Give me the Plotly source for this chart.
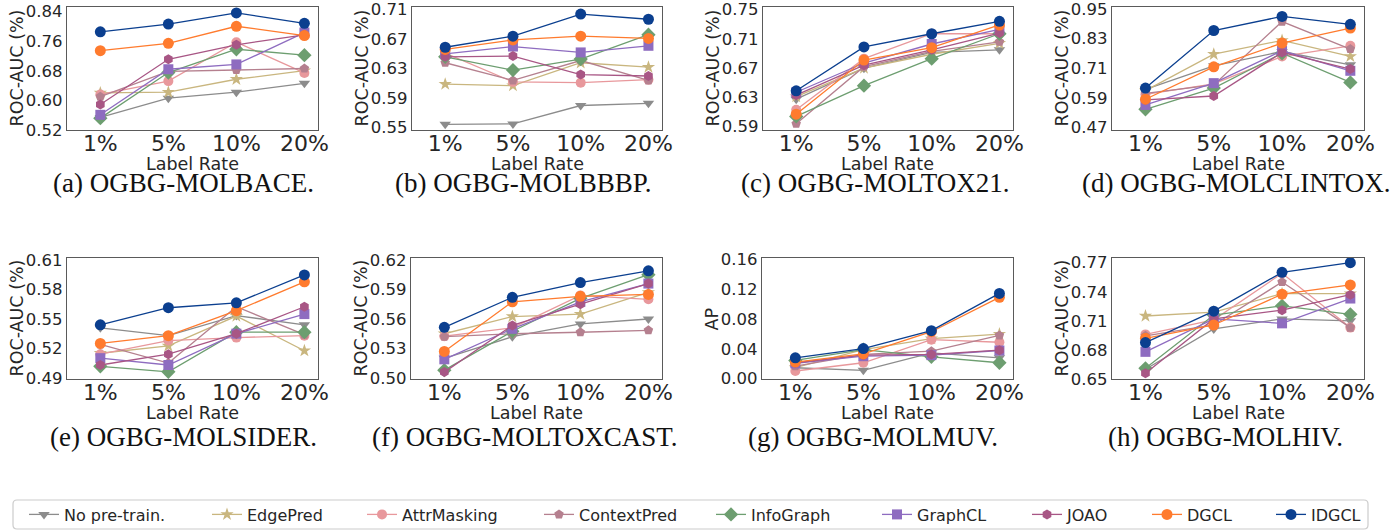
import plotly.graph_objects as go

label_rates = ["1%", "5%", "10%", "20%"]
methods = ["No pre-train.", "EdgePred", "AttrMasking", "ContextPred", "InfoGraph",
           "GraphCL", "JOAO", "DGCL", "IDGCL"]

# rows follow the order of `methods`; columns follow `label_rates`
bace = [
    [0.554, 0.606, 0.622, 0.646],
    [0.620, 0.622, 0.657, 0.680],
    [0.616, 0.652, 0.757, 0.674],
    [0.610, 0.678, 0.682, 0.686],
    [0.552, 0.675, 0.738, 0.722],
    [0.561, 0.684, 0.697, 0.783],
    [0.589, 0.711, 0.750, 0.777],
    [0.734, 0.754, 0.800, 0.775],
    [0.785, 0.806, 0.836, 0.808],
]
bbbp = [
    [0.5545, 0.555, 0.580, 0.583],
    [0.609, 0.607, 0.638, 0.632],
    [0.651, 0.612, 0.611, 0.615],
    [0.638, 0.614, 0.641, 0.614],
    [0.646, 0.628, 0.643, 0.676],
    [0.650, 0.660, 0.652, 0.661],
    [0.646, 0.647, 0.622, 0.620],
    [0.656, 0.669, 0.674, 0.671],
    [0.659, 0.674, 0.704, 0.697],
]
tox21 = [
    [0.6275, 0.670, 0.6915, 0.695],
    [0.631, 0.670, 0.689, 0.704],
    [0.613, 0.683, 0.717, 0.717],
    [0.594, 0.672, 0.693, 0.706],
    [0.604, 0.646, 0.683, 0.717],
    [0.637, 0.677, 0.703, 0.723],
    [0.633, 0.674, 0.695, 0.718],
    [0.607, 0.681, 0.698, 0.729],
    [0.639, 0.699, 0.717, 0.734],
]
clintox = [
    [0.625, 0.720, 0.778, 0.724],
    [0.620, 0.767, 0.823, 0.758],
    [0.605, 0.647, 0.758, 0.801],
    [0.609, 0.643, 0.899, 0.788],
    [0.544, 0.630, 0.771, 0.653],
    [0.562, 0.650, 0.781, 0.700],
    [0.582, 0.598, 0.774, 0.707],
    [0.585, 0.716, 0.812, 0.873],
    [0.630, 0.863, 0.920, 0.888],
]
sider = [
    [0.541, 0.533, 0.5535, 0.544],
    [0.515, 0.5226, 0.553, 0.5176],
    [0.514, 0.528, 0.531, 0.533],
    [0.524, 0.505, 0.5625, 0.534],
    [0.5016, 0.496, 0.5365, 0.5365],
    [0.510, 0.503, 0.535, 0.555],
    [0.503, 0.514, 0.535, 0.5625],
    [0.525, 0.533, 0.5585, 0.588],
    [0.544, 0.5615, 0.5665, 0.595],
]
toxcast = [
    [0.520, 0.542, 0.555, 0.560],
    [0.545, 0.5625, 0.565, 0.587],
    [0.5425, 0.551, 0.584, 0.580],
    [0.542, 0.545, 0.5465, 0.5485],
    [0.508, 0.5475, 0.581, 0.605],
    [0.519, 0.550, 0.5775, 0.596],
    [0.506, 0.5535, 0.575, 0.596],
    [0.527, 0.5775, 0.583, 0.585],
    [0.5515, 0.582, 0.597, 0.609],
]
muv = [
    [0.0146, 0.0111, 0.0346, 0.0279],
    [0.0146, 0.0390, 0.0536, 0.0598],
    [0.0102, 0.0213, 0.0523, 0.0488],
    [0.0168, 0.0324, 0.0368, 0.0580],
    [0.0244, 0.0390, 0.0293, 0.0213],
    [0.0204, 0.0301, 0.0315, 0.0377],
    [0.0213, 0.0315, 0.0324, 0.0381],
    [0.0222, 0.0332, 0.0629, 0.1090],
    [0.0279, 0.0403, 0.0643, 0.1143],
]
hiv = [
    [0.660, 0.7016, 0.712, 0.710],
    [0.715, 0.719, 0.738, 0.738],
    [0.696, 0.711, 0.759, 0.703],
    [0.6945, 0.7057, 0.750, 0.703],
    [0.661, 0.716, 0.7255, 0.7167],
    [0.678, 0.712, 0.7074, 0.733],
    [0.656, 0.712, 0.721, 0.737],
    [0.692, 0.7057, 0.7375, 0.747],
    [0.6876, 0.720, 0.760, 0.770],
]

datasets = [bace, bbbp, tox21, clintox, sider, toxcast, muv, hiv]
captions = ["(a) OGBG-MOLBACE.", "(b) OGBG-MOLBBBP.", "(c) OGBG-MOLTOX21.",
            "(d) OGBG-MOLCLINTOX.", "(e) OGBG-MOLSIDER.", "(f) OGBG-MOLTOXCAST.",
            "(g) OGBG-MOLMUV.", "(h) OGBG-MOLHIV."]
y_titles = ["ROC-AUC (%)"] * 6 + ["AP", "ROC-AUC (%)"]
y_ticks = [
    [0.52, 0.60, 0.68, 0.76, 0.84],
    [0.55, 0.59, 0.63, 0.67, 0.71],
    [0.59, 0.63, 0.67, 0.71, 0.75],
    [0.47, 0.59, 0.71, 0.83, 0.95],
    [0.49, 0.52, 0.55, 0.58, 0.61],
    [0.50, 0.53, 0.56, 0.59, 0.62],
    [0.00, 0.04, 0.08, 0.12, 0.16],
    [0.65, 0.68, 0.71, 0.74, 0.77],
]

# ---------------- styling / layout ----------------
W, H = 1398, 531
colors = ["#8c8c8c", "#c9b67f", "#e8989c", "#b5808f", "#6d9e70",
          "#8e6cc0", "#a85685", "#ff7b2e", "#0b3f8f"]
symbols = ["triangle-down", "star", "circle", "pentagon", "diamond",
           "square", "hexagon", "circle", "circle"]
sizes = [10, 10, 10, 10, 11, 10, 10, 11, 11]

y_ranges = [
    [0.52, 0.852], [0.5468, 0.7136], [0.5854, 0.7536], [0.4605, 0.958],
    [0.4887, 0.6123], [0.4990, 0.6220], [-0.0005, 0.1618], [0.65, 0.7748],
]
# panel frames in pixels: (left, right, top, bottom)
frames = [
    (67, 318, 7, 130), (412, 662, 7, 130), (763, 1013, 7, 130), (1112, 1364, 7, 130),
    (67, 318, 258, 379), (411, 662, 258, 379), (762, 1013, 258, 379), (1112, 1364, 258, 379),
]
caption_centers = [(183, 183), (523, 183), (875, 183), (1236, 183),
                   (183, 437), (525, 437), (873, 437), (1225, 437)]
text_color = "#262626"
x_positions = list(range(len(label_rates)))

fig = go.Figure()
annotations = []
layout_axes = {}
for p, data in enumerate(datasets):
    xa = "x" if p == 0 else f"x{p+1}"
    ya = "y" if p == 0 else f"y{p+1}"
    for m, name in enumerate(methods):
        leg = "legend" if m == 0 else f"legend{m+1}"
        fig.add_trace(go.Scatter(
            x=x_positions, y=data[m], name=name, mode="lines+markers",
            xaxis=xa, yaxis=ya,
            line=dict(color=colors[m], width=1.3),
            marker=dict(symbol=symbols[m], size=sizes[m], color=colors[m]),
            showlegend=(p == 0), legend=leg,
        ))
    l, r, t, b = frames[p]
    xkey = "xaxis" if p == 0 else f"xaxis{p+1}"
    ykey = "yaxis" if p == 0 else f"yaxis{p+1}"
    layout_axes[xkey] = dict(
        domain=[l / W, r / W], anchor=ya, range=[-0.49, 3.2],
        tickvals=x_positions, ticktext=label_rates,
        tickfont=dict(size=22, color=text_color, family="DejaVu Sans"),
        showline=True, mirror=True, linecolor="#5a5a5a", linewidth=1.2,
        showgrid=False, zeroline=False, ticks="", ticklabelstandoff=-7,
        ticklabeloverflow="allow",
    )
    layout_axes[ykey] = dict(
        domain=[1 - b / H, 1 - t / H], anchor=xa, range=y_ranges[p],
        tickvals=y_ticks[p], tickformat=".2f",
        tickfont=dict(size=16.5, color=text_color, family="DejaVu Sans"),
        showline=True, mirror=True, linecolor="#5a5a5a", linewidth=1.2,
        showgrid=False, zeroline=False, ticks="", ticklabeloverflow="allow",
    )
    annotations.append(dict(
        text="Label Rate", x=(l + r) / 2 / W, y=1 - (b + 34) / H,
        xref="paper", yref="paper", showarrow=False, xanchor="center", yanchor="middle",
        font=dict(size=17.5, color=text_color, family="DejaVu Sans"),
    ))
    annotations.append(dict(
        text=y_titles[p], x=(l - 51) / W, y=1 - (t + b) / 2 / H,
        xref="paper", yref="paper", showarrow=False, textangle=-90,
        xanchor="center", yanchor="middle",
        font=dict(size=17.5, color=text_color, family="DejaVu Sans"),
    ))
    cx, cy = caption_centers[p]
    annotations.append(dict(
        text=captions[p], x=cx / W, y=1 - cy / H,
        xref="paper", yref="paper", showarrow=False,
        xanchor="center", yanchor="middle",
        font=dict(size=27, color="#111111", family="Liberation Serif"),
    ))

# legend entries placed individually to follow the reference spacing
text_starts = [65, 248, 403, 580, 752, 918, 1068, 1188, 1312]
legends = {}
for m in range(len(methods)):
    key = "legend" if m == 0 else f"legend{m+1}"
    legends[key] = dict(
        x=(text_starts[m] - 41) / W, xanchor="left",
        y=1 - 514.5 / H, yanchor="middle", orientation="h",
        bgcolor="rgba(0,0,0,0)", borderwidth=0,
        font=dict(size=16, color=text_color, family="DejaVu Sans"),
    )

r0, x0, x1, y0, y1 = 4, 13, 1368, 500, 529
legend_box = (f"M {x0+r0} {y0} L {x1-r0} {y0} Q {x1} {y0} {x1} {y0+r0} "
              f"L {x1} {y1-r0} Q {x1} {y1} {x1-r0} {y1} L {x0+r0} {y1} "
              f"Q {x0} {y1} {x0} {y1-r0} L {x0} {y0+r0} Q {x0} {y0} {x0+r0} {y0} Z")


def px_path(path):
    out = []
    is_x = True
    for tk in path.split():
        if tk.isalpha():
            out.append(tk)
            is_x = True
        else:
            v = float(tk)
            out.append(f"{v / W:.5f}" if is_x else f"{1 - v / H:.5f}")
            is_x = not is_x
    return " ".join(out)


fig.update_layout(
    width=W, height=H,
    margin=dict(l=0, r=0, t=0, b=0, autoexpand=False),
    paper_bgcolor="white", plot_bgcolor="white",
    annotations=annotations,
    shapes=[dict(type="path", path=px_path(legend_box), xref="paper", yref="paper",
                 line=dict(color="#cccccc", width=1.2), fillcolor="rgba(0,0,0,0)")],
    **layout_axes, **legends,
)

fig.write_html(
    "out.html",
    config={"displayModeBar": False},
    post_script="document.body.style.margin='0';document.body.style.overflow='hidden';",
)
